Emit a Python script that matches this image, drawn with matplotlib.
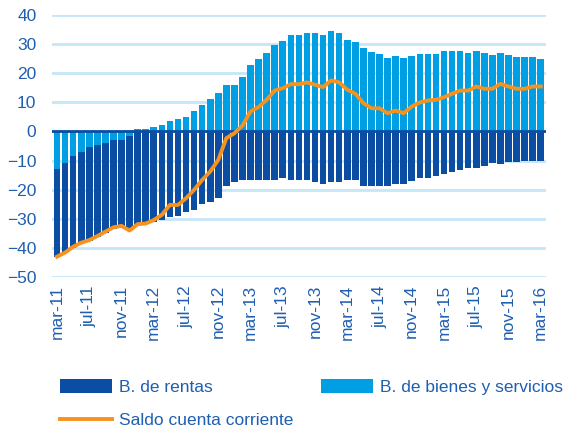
import matplotlib
matplotlib.use("Agg")
import matplotlib.pyplot as plt
import numpy as np
import pandas as pd

plt.rcParams['font.family'] = ['Liberation Sans', 'DejaVu Sans']

months = pd.date_range("2011-03-01", "2016-03-01", freq="MS")
mes = ["ene", "feb", "mar", "abr", "may", "jun", "jul", "ago", "sep", "oct", "nov", "dic"]
labels = [f"{mes[d.month - 1]}-{d.year % 100}" for d in months]

bienes = [-12.9, -10.7, -8.6, -7.2, -5.3, -4.5, -3.8, -3.1, -3.1, -1.7,
          0.8, 0.9, 1.5, 2.2, 3.6, 4.3, 4.9, 7.0, 9.1, 11.1,
          13.2, 16.0, 16.0, 18.7, 22.9, 25.0, 27.0, 29.8, 31.0, 33.1,
          33.1, 33.9, 33.9, 33.1, 34.5, 33.9, 31.4, 30.8, 28.7, 27.4,
          26.7, 25.3, 25.9, 25.3, 25.9, 26.6, 26.6, 26.6, 27.7, 27.7,
          27.7, 27.0, 27.7, 27.0, 26.3, 27.0, 26.3, 25.6, 25.6, 25.6,
          24.9]

rentas = [-30.2, -31.1, -31.4, -31.3, -32.3, -31.7, -31.2, -30.6, -29.7, -32.2,
          -32.2, -31.6, -31.0, -30.5, -29.3, -29.1, -27.8, -27.2, -25.1, -24.4,
          -23.0, -18.7, -17.5, -16.7, -16.7, -16.7, -16.7, -16.7, -16.1, -16.7,
          -16.7, -16.7, -17.5, -18.0, -17.5, -17.5, -16.7, -16.7, -18.6, -18.6,
          -18.6, -18.6, -18.0, -18.0, -16.9, -16.0, -16.0, -15.3, -14.6, -13.8,
          -13.2, -12.6, -12.6, -11.8, -10.7, -11.1, -10.6, -10.6, -10.0, -10.0,
          -10.0]

saldo = [-43.1, -41.7, -39.7, -38.3, -37.4, -36.0, -34.5, -33.0, -32.5, -34.1,
         -31.9, -31.7, -30.5, -28.7, -25.3, -25.3, -23.0, -20.1, -16.7, -13.8,
         -9.8, -2.3, -0.6, 2.0, 6.9, 8.4, 10.9, 14.1, 14.9, 16.3,
         16.3, 16.9, 16.1, 15.3, 17.6, 16.9, 14.4, 13.0, 9.8, 8.0,
         8.0, 6.3, 7.2, 6.3, 8.6, 10.0, 10.7, 10.9, 11.8, 13.0,
         14.1, 14.1, 15.5, 14.7, 14.7, 16.4, 15.5, 14.7, 14.7, 15.5,
         15.5]

dark = "#0A4DA2"
light = "#009EE2"
orange = "#F7921E"
txt = "#1F5FB0"

x = np.arange(len(months))
b = np.array(bienes)
r = np.array(rentas)
# negative bienes sits next to zero, rentas stacks below it
r_bottom = np.minimum(b, 0)

fig = plt.figure(figsize=(5.74, 4.32), dpi=100)
ax = fig.add_axes([0.0902, 0.3595, 0.861, 0.605])

bars_b = ax.bar(x, b, width=0.82, color=light, zorder=2)
bars_r = ax.bar(x, r, bottom=r_bottom, width=0.82, color=dark, zorder=2)
line, = ax.plot(x, saldo, color=orange, lw=2.8, zorder=4)
ax.axhline(0, color=dark, lw=2, zorder=3)

ax.set_ylim(-50, 40)
ax.set_yticks(range(-50, 41, 10))
ax.set_xlim(-0.65, len(x) - 0.35)
ax.set_xticks(x[::4])
ax.set_xticklabels(labels[::4], rotation=90)
ax.grid(axis="y", color="#C4E6F7", lw=2, zorder=0)
ax.set_axisbelow(True)
for s in ax.spines.values():
    s.set_visible(False)
ax.tick_params(length=0, colors=txt, labelsize=12.5)
ax.tick_params(axis="x", pad=6)
ax.tick_params(axis="y", pad=11)

# column-wise fill: rentas / saldo on the left, bienes on the right
fig.legend([bars_r, line, bars_b],
           ["B. de rentas", "Saldo cuenta corriente", "B. de bienes y servicios"],
           ncol=2, loc="upper left", bbox_to_anchor=(0.078, 0.16), frameon=False,
           handlelength=3.0, handleheight=0.9, handletextpad=0.4,
           columnspacing=1.55, labelspacing=1.0, fontsize=12.5, labelcolor=txt)

fig.savefig("out.png", dpi=100)
